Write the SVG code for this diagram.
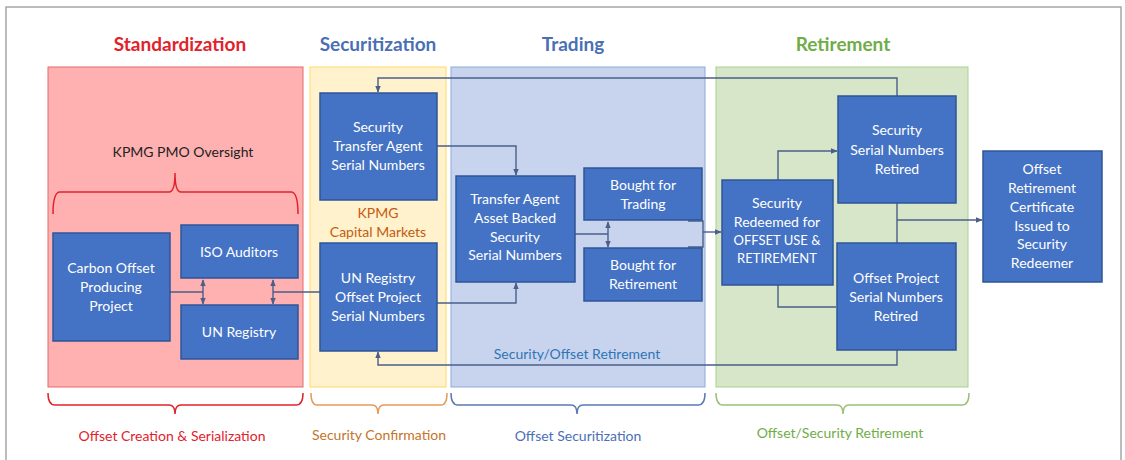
<svg xmlns="http://www.w3.org/2000/svg" width="1125" height="460" viewBox="0 0 1125 460">
  <defs>
    <marker id="arr" viewBox="0 0 10 10" refX="9" refY="5" markerWidth="5" markerHeight="5" orient="auto-start-reverse">
      <path d="M0,1 L10,5 L0,9 z" fill="#4a5f8a"/>
    </marker>
    <style>
      .node rect { fill: #4472c4; stroke: #2f5597; stroke-width: 1.5; }
      .node text { fill: #ffffff; font-family: Lato, "Open Sans", sans-serif; font-size: 14px; text-anchor: middle; }
      .node text.caps { font-size: 13px; }
      .title { font-family: Lato, "Open Sans", sans-serif; font-size: 19px; font-weight: bold; text-anchor: middle; }
      .label { font-family: Lato, "Open Sans", sans-serif; font-size: 14px; text-anchor: middle; }
      .conn { fill: none; stroke: #4a5f8a; stroke-width: 1.4; }
      .brace { fill: none; stroke-width: 1.5; }
    </style>
  </defs>

  <rect x="0" y="0" width="1125" height="460" fill="#ffffff"/>
  <rect x="6" y="7" width="1115" height="460" fill="none" stroke="#a6a6a6" stroke-width="1.5"/>

  <!-- phase titles -->
  <text class="title" x="180" y="51" fill="#e2222b">Standardization</text>
  <text class="title" x="378" y="51" fill="#4a6fb5">Securitization</text>
  <text class="title" x="573" y="51" fill="#4a6fb5">Trading</text>
  <text class="title" x="843" y="51" fill="#70ad47">Retirement</text>

  <!-- phase panels -->
  <rect x="48" y="67" width="255" height="320" fill="#ffb1b1" stroke="#e26a6a" stroke-width="1"/>
  <rect x="310" y="67" width="136" height="320" fill="#fff2cc" stroke="#ffd966" stroke-width="1"/>
  <rect x="451" y="67" width="254" height="320" fill="#c8d4ee" stroke="#8eaadb" stroke-width="1"/>
  <rect x="716" y="67" width="252" height="320" fill="#d7e5c9" stroke="#a9d18e" stroke-width="1"/>

  <!-- panel annotations -->
  <text class="label" x="183" y="157" fill="#222222">KPMG PMO Oversight</text>
  <path class="brace" stroke="#e2222b" d="M53,214 Q53,192 60,192 H169 Q175,192 175,173 Q175,192 181,192 H291 Q298,192 298,214"/>
  <text class="label" x="378" y="218" fill="#c55a11">KPMG</text>
  <text class="label" x="378" y="237" fill="#c55a11">Capital Markets</text>
  <text class="label" x="577" y="359" fill="#2e75b6">Security/Offset Retirement</text>

  <!-- bottom braces and captions -->
  <path class="brace" stroke="#e2222b" d="M48,393 Q48,405 55,405 H169 Q175,405 175,414 Q175,405 181,405 H296 Q303,405 303,393"/>
  <text class="label" x="172" y="441" fill="#e2222b">Offset Creation &amp; Serialization</text>
  <path class="brace" stroke="#e69a5a" d="M311,393 Q311,405 317,405 H372 Q378,405 378,414 Q378,405 384,405 H441 Q447,405 447,393"/>
  <text class="label" x="379" y="440" fill="#c5742a">Security Confirmation</text>
  <path class="brace" stroke="#5b79b5" d="M451,393 Q451,405 458,405 H571 Q577,405 577,414 Q577,405 583,405 H698 Q705,405 705,393"/>
  <text class="label" x="578" y="441" fill="#4a6fb5">Offset Securitization</text>
  <path class="brace" stroke="#9cc07a" d="M716,393 Q716,405 723,405 H837 Q843,405 843,414 Q843,405 849,405 H962 Q969,405 969,393"/>
  <text class="label" x="840" y="438" fill="#70ad47">Offset/Security Retirement</text>

  <!-- connectors -->
  <g id="connectors">
    <path class="conn" d="M897,96 V78 H378 V92" marker-end="url(#arr)"/>
    <path class="conn" d="M437,146 H516 V175" marker-end="url(#arr)"/>
    <path class="conn" d="M437,303 H516 V283" marker-end="url(#arr)"/>
    <path class="conn" d="M575,234 H608"/>
    <path class="conn" d="M608,222 V247" marker-start="url(#arr)" marker-end="url(#arr)"/>
    <path class="conn" d="M688,221 H703 V247 H688"/>
    <path class="conn" d="M703,232 H721" marker-end="url(#arr)"/>
    <path class="conn" d="M778,180 V151 H837" marker-end="url(#arr)"/>
    <path class="conn" d="M778,285 V307 H836"/>
    <path class="conn" d="M897,203 V243"/>
    <path class="conn" d="M897,220 H982" marker-end="url(#arr)"/>
    <path class="conn" d="M897,350 V365 H378 V352" marker-end="url(#arr)"/>
    <path class="conn" d="M170,292 H203"/>
    <path class="conn" d="M203,280 V304" marker-start="url(#arr)" marker-end="url(#arr)"/>
    <path class="conn" d="M273,280 V304" marker-start="url(#arr)" marker-end="url(#arr)"/>
    <path class="conn" d="M273,292 H320"/>
  </g>

  <!-- nodes -->
  <g id="carbon-offset-project" class="node">
    <rect x="53" y="233" width="117" height="108"/>
    <text x="111" y="273">Carbon Offset</text>
    <text x="111" y="292">Producing</text>
    <text x="111" y="311">Project</text>
  </g>
  <g id="iso-auditors" class="node">
    <rect x="181" y="225" width="117" height="53"/>
    <text x="239" y="257">ISO Auditors</text>
  </g>
  <g id="un-registry" class="node">
    <rect x="181" y="305" width="117" height="54"/>
    <text x="239" y="337">UN Registry</text>
  </g>
  <g id="security-transfer-agent" class="node">
    <rect x="320" y="93" width="117" height="107"/>
    <text x="378" y="132">Security</text>
    <text x="378" y="151">Transfer Agent</text>
    <text x="378" y="170">Serial Numbers</text>
  </g>
  <g id="un-registry-offset-project" class="node">
    <rect x="320" y="243" width="117" height="108"/>
    <text x="378" y="283">UN Registry</text>
    <text x="378" y="302">Offset Project</text>
    <text x="378" y="321">Serial Numbers</text>
  </g>
  <g id="transfer-agent-abs" class="node">
    <rect x="456" y="176" width="119" height="106"/>
    <text x="515" y="204">Transfer Agent</text>
    <text x="515" y="223">Asset Backed</text>
    <text x="515" y="242">Security</text>
    <text x="515" y="260">Serial Numbers</text>
  </g>
  <g id="bought-for-trading" class="node">
    <rect x="584" y="168" width="118" height="52"/>
    <text x="643" y="190">Bought for</text>
    <text x="643" y="209">Trading</text>
  </g>
  <g id="bought-for-retirement" class="node">
    <rect x="584" y="248" width="118" height="53"/>
    <text x="643" y="270">Bought for</text>
    <text x="643" y="289">Retirement</text>
  </g>
  <g id="security-redeemed" class="node">
    <rect x="722" y="180" width="111" height="105"/>
    <text x="777" y="208">Security</text>
    <text x="777" y="227">Redeemed for</text>
    <text class="caps" x="777" y="245">OFFSET USE &amp;</text>
    <text class="caps" x="777" y="263">RETIREMENT</text>
  </g>
  <g id="security-serials-retired" class="node">
    <rect x="838" y="96" width="118" height="107"/>
    <text x="897" y="135">Security</text>
    <text x="897" y="155">Serial Numbers</text>
    <text x="897" y="174">Retired</text>
  </g>
  <g id="offset-serials-retired" class="node">
    <rect x="837" y="243" width="119" height="107"/>
    <text x="896" y="283">Offset Project</text>
    <text x="896" y="302">Serial Numbers</text>
    <text x="896" y="321">Retired</text>
  </g>
  <g id="retirement-certificate" class="node">
    <rect x="983" y="151" width="119" height="131"/>
    <text x="1042" y="174">Offset</text>
    <text x="1042" y="193">Retirement</text>
    <text x="1042" y="212">Certificate</text>
    <text x="1042" y="231">Issued to</text>
    <text x="1042" y="249">Security</text>
    <text x="1042" y="268">Redeemer</text>
  </g>
</svg>
